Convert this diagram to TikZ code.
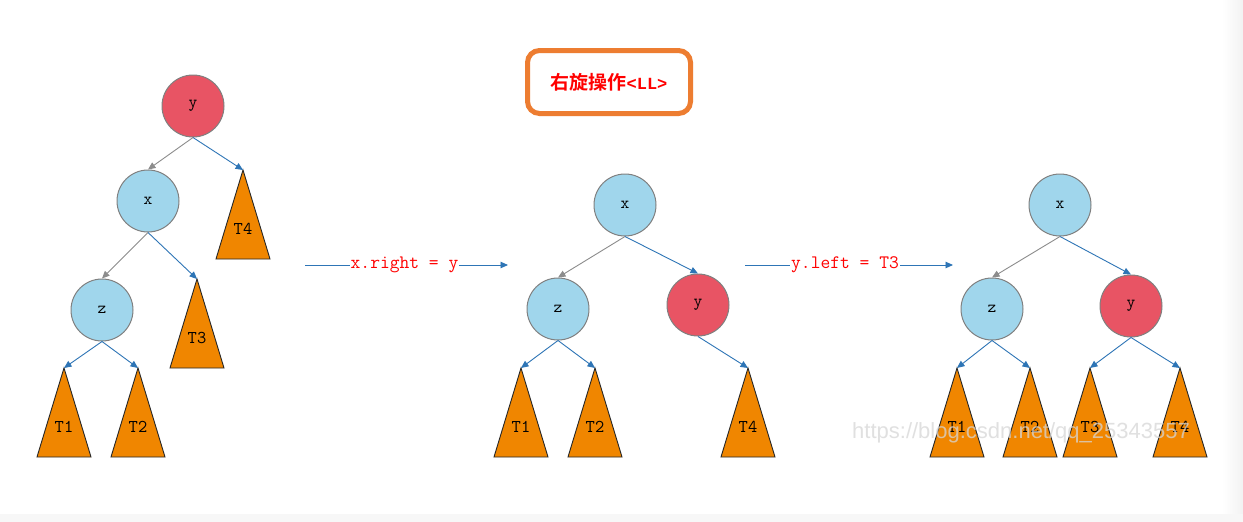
\documentclass[tikz,border=0pt]{standalone}
\usepackage{fontspec}
\setmainfont{Liberation Serif}
\newfontfamily\monof{Liberation Mono}
\newfontfamily\wmfont{Liberation Sans}
\newfontfamily\cjk{Noto Sans CJK SC Bold}
\usetikzlibrary{arrows.meta}
\definecolor{nodeblue}{RGB}{160,214,236}
\definecolor{nodered}{RGB}{232,84,100}
\definecolor{nodegray}{RGB}{128,128,128}
\definecolor{triorange}{RGB}{240,134,0}
\definecolor{edgeblue}{RGB}{46,117,182}
\definecolor{edgegray}{RGB}{140,140,140}
\definecolor{boxorange}{RGB}{237,125,49}
\newcommand\subtree[4]{%
  \coordinate (#1) at (#2,#3);
  \filldraw[fill=triorange,draw=black!85,line width=0.9pt,line join=miter] (#1) -- ++(27,89) -- ++(-54,0) -- cycle;
  \node[tlabel] (#1l) at (#2,#3+59) {#4};
}
\begin{document}
\begin{tikzpicture}[x=1pt,y=-1pt,
  cblue/.style={circle,draw=nodegray,line width=1pt,fill=nodeblue,minimum size=62pt,inner sep=0pt,font=\ttfamily\fontsize{17}{17}\selectfont},
  cred/.style={cblue,fill=nodered},
  tlabel/.style={font=\ttfamily\fontsize{18}{18}\selectfont,inner sep=0pt},
  bedge/.style={draw=edgeblue,line width=0.9pt,-{Triangle[length=7.5pt,width=6.5pt]}},
  gedge/.style={draw=edgegray,line width=0.9pt,-{Triangle[length=7.5pt,width=6.5pt]}},
  oplabel/.style={fill=white,inner sep=1pt,text=red,font=\ttfamily\fontsize{19}{19}\selectfont},
  titlebox/.style={draw=boxorange,line width=5pt,rounded corners=12pt,fill=white,minimum width=163pt,minimum height=63pt,text=red}
]
\useasboundingbox (0,0) rectangle (1243,522);
\fill[white] (0,0) rectangle (1243,522);
\shade[left color=white,right color=black!5] (1222,0) rectangle (1243,522);
\fill[black!3] (0,514) rectangle (1243,522);

% title
\node[titlebox] (title) at (609,82) {{\cjk\fontsize{19}{19}\selectfont 右旋操作}{\monof\bfseries\fontsize{17}{17}\selectfont <LL>}};

% tree 1
\node[cred] (y1) at (193,106) {y};
\node[cblue] (x1) at (148,201) {x};
\node[cblue] (z1) at (102,310) {z};
\subtree{t41}{243}{170}{T4}
\subtree{t31}{197}{279}{T3}
\subtree{t11}{64}{368}{T1}
\subtree{t21}{138}{368}{T2}
\draw[gedge] (y1.south) -- (x1.north);
\draw[bedge] (y1.south) -- (t41);
\draw[gedge] (x1.south) -- (z1.north);
\draw[bedge] (x1.south) -- (t31);
\draw[bedge] (z1.south) -- (t11);
\draw[bedge] (z1.south) -- (t21);

% operation arrows
\coordinate (a1s) at (305,265);
\coordinate (a1e) at (508,265);
\draw[bedge] (a1s) -- node[oplabel,xshift=-2pt] (l1) {x.right = y} (a1e);
\coordinate (a2s) at (745,265);
\coordinate (a2e) at (953,265);
\draw[bedge] (a2s) -- node[oplabel,xshift=-4pt] (l2) {y.left = T3} (a2e);

% tree 2
\node[cblue] (x2) at (625,205) {x};
\node[cblue] (z2) at (558,309) {z};
\node[cred] (y2) at (698,305) {y};
\subtree{t12}{521}{368}{T1}
\subtree{t22}{595}{368}{T2}
\subtree{t42}{748}{368}{T4}
\draw[gedge] (x2.south) -- (z2.north);
\draw[bedge] (x2.south) -- (y2.north);
\draw[bedge] (z2.south) -- (t12);
\draw[bedge] (z2.south) -- (t22);
\draw[bedge] (y2.south) -- (t42);

% tree 3
\node[cblue] (x3) at (1060,205) {x};
\node[cblue] (z3) at (992,309) {z};
\node[cred] (y3) at (1131,306) {y};
\subtree{t13}{957}{368}{T1}
\subtree{t23}{1030}{368}{T2}
\subtree{t33}{1090}{368}{T3}
\subtree{t43}{1180}{368}{T4}
\draw[gedge] (x3.south) -- (z3.north);
\draw[bedge] (x3.south) -- (y3.north);
\draw[bedge] (z3.south) -- (t13);
\draw[bedge] (z3.south) -- (t23);
\draw[bedge] (y3.south) -- (t33);
\draw[bedge] (y3.south) -- (t43);

% watermark
\node[text=black!16,opacity=0.75,font=\wmfont\fontsize{22}{22}\selectfont] (wm) at (1021,433) {https://blog.csdn.net/qq\_25343557};
\end{tikzpicture}
\end{document}
